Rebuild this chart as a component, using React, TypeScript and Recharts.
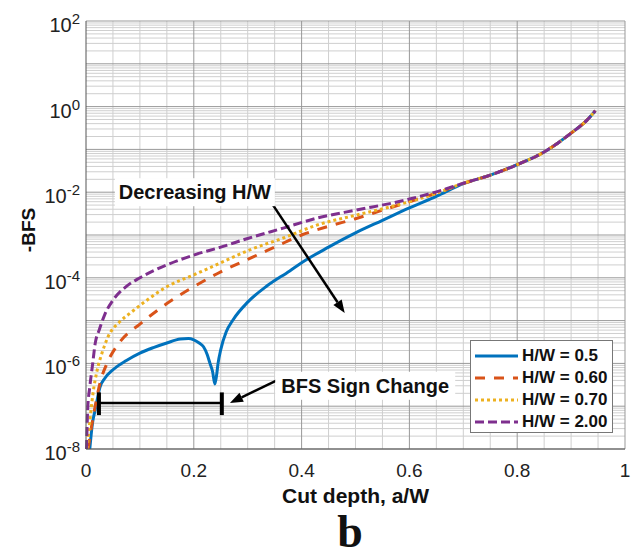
import React from 'react';
import { LineChart, Line, XAxis, YAxis, CartesianGrid, ReferenceLine, ReferenceDot } from 'recharts';

const FONT = 'Arial, "Liberation Sans", Helvetica, sans-serif';

// cut depth a/W vs -BFS
const hw05 = [
  { a: 0.007, bfs: 1e-8 }, { a: 0.012, bfs: 4e-8 }, { a: 0.017, bfs: 8.1e-8 }, { a: 0.026, bfs: 2.8e-7 },
  { a: 0.035, bfs: 4.5e-7 }, { a: 0.05, bfs: 7.1e-7 }, { a: 0.075, bfs: 1.17e-6 }, { a: 0.1, bfs: 1.74e-6 },
  { a: 0.125, bfs: 2.34e-6 }, { a: 0.15, bfs: 3.0e-6 }, { a: 0.175, bfs: 3.7e-6 }, { a: 0.19, bfs: 3.8e-6 },
  { a: 0.2, bfs: 3.55e-6 }, { a: 0.21, bfs: 3.0e-6 }, { a: 0.218, bfs: 2.45e-6 }, { a: 0.225, bfs: 1.6e-6 },
  { a: 0.23, bfs: 1.0e-6 }, { a: 0.235, bfs: 6.3e-7 }, { a: 0.239, bfs: 3.3e-7 }, { a: 0.242, bfs: 5.0e-7 },
  { a: 0.245, bfs: 1.0e-6 }, { a: 0.25, bfs: 2.1e-6 }, { a: 0.26, bfs: 5.4e-6 }, { a: 0.273, bfs: 1.05e-5 },
  { a: 0.3, bfs: 2.7e-5 }, { a: 0.336, bfs: 6.5e-5 }, { a: 0.378, bfs: 1.45e-4 }, { a: 0.4, bfs: 2.25e-4 },
  { a: 0.45, bfs: 5.2e-4 }, { a: 0.5, bfs: 1.12e-3 }, { a: 0.55, bfs: 2.2e-3 }, { a: 0.6, bfs: 4.3e-3 },
  { a: 0.65, bfs: 8.0e-3 }, { a: 0.7, bfs: 1.58e-2 }, { a: 0.75, bfs: 2.5e-2 }, { a: 0.8, bfs: 4.4e-2 },
  { a: 0.85, bfs: 8.7e-2 }, { a: 0.875, bfs: 0.14 }, { a: 0.9, bfs: 0.24 }, { a: 0.93, bfs: 0.49 },
  { a: 0.945, bfs: 0.8 },
];

const hw060 = [
  { a: 0.004, bfs: 1e-8 }, { a: 0.01, bfs: 3.2e-8 }, { a: 0.017, bfs: 1e-7 }, { a: 0.026, bfs: 3.5e-7 },
  { a: 0.039, bfs: 1.0e-6 }, { a: 0.063, bfs: 3.2e-6 }, { a: 0.1, bfs: 8.3e-6 }, { a: 0.15, bfs: 2.5e-5 },
  { a: 0.2, bfs: 6.2e-5 }, { a: 0.25, bfs: 1.38e-4 }, { a: 0.3, bfs: 2.7e-4 }, { a: 0.35, bfs: 5.2e-4 },
  { a: 0.4, bfs: 1.0e-3 }, { a: 0.45, bfs: 1.6e-3 }, { a: 0.5, bfs: 2.4e-3 }, { a: 0.55, bfs: 3.8e-3 },
  { a: 0.6, bfs: 6.0e-3 }, { a: 0.65, bfs: 9.5e-3 }, { a: 0.7, bfs: 1.6e-2 }, { a: 0.75, bfs: 2.5e-2 },
  { a: 0.8, bfs: 4.4e-2 }, { a: 0.85, bfs: 8.7e-2 }, { a: 0.875, bfs: 0.14 }, { a: 0.9, bfs: 0.24 },
  { a: 0.93, bfs: 0.49 }, { a: 0.945, bfs: 0.8 },
];

const hw070 = [
  { a: 0.002, bfs: 1e-8 }, { a: 0.006, bfs: 3.2e-8 }, { a: 0.013, bfs: 2e-7 }, { a: 0.02, bfs: 6.3e-7 },
  { a: 0.03, bfs: 1.8e-6 }, { a: 0.041, bfs: 4.2e-6 }, { a: 0.063, bfs: 9.5e-6 }, { a: 0.082, bfs: 1.5e-5 },
  { a: 0.113, bfs: 3.0e-5 }, { a: 0.15, bfs: 6.2e-5 }, { a: 0.2, bfs: 1.17e-4 }, { a: 0.25, bfs: 2.24e-4 },
  { a: 0.304, bfs: 4.5e-4 }, { a: 0.366, bfs: 8.5e-4 }, { a: 0.428, bfs: 1.7e-3 }, { a: 0.503, bfs: 2.95e-3 },
  { a: 0.577, bfs: 5.0e-3 }, { a: 0.651, bfs: 9.5e-3 }, { a: 0.7, bfs: 1.62e-2 }, { a: 0.75, bfs: 2.5e-2 },
  { a: 0.8, bfs: 4.4e-2 }, { a: 0.85, bfs: 8.7e-2 }, { a: 0.875, bfs: 0.14 }, { a: 0.9, bfs: 0.24 },
  { a: 0.93, bfs: 0.49 }, { a: 0.945, bfs: 0.8 },
];

const hw200 = [
  { a: 0.001, bfs: 1e-8 }, { a: 0.003, bfs: 8e-8 }, { a: 0.007, bfs: 2.8e-7 }, { a: 0.012, bfs: 9e-7 },
  { a: 0.017, bfs: 2.9e-6 }, { a: 0.025, bfs: 6.3e-6 }, { a: 0.035, bfs: 1.4e-5 }, { a: 0.05, bfs: 3.0e-5 },
  { a: 0.075, bfs: 6.3e-5 }, { a: 0.1, bfs: 1.0e-4 }, { a: 0.15, bfs: 2.0e-4 }, { a: 0.2, bfs: 3.4e-4 },
  { a: 0.25, bfs: 5.2e-4 }, { a: 0.3, bfs: 8.3e-4 }, { a: 0.366, bfs: 1.45e-3 }, { a: 0.43, bfs: 2.5e-3 },
  { a: 0.5, bfs: 3.8e-3 }, { a: 0.577, bfs: 5.9e-3 }, { a: 0.65, bfs: 1.02e-2 }, { a: 0.7, bfs: 1.62e-2 },
  { a: 0.75, bfs: 2.5e-2 }, { a: 0.8, bfs: 4.4e-2 }, { a: 0.85, bfs: 8.7e-2 }, { a: 0.875, bfs: 0.14 },
  { a: 0.9, bfs: 0.24 }, { a: 0.93, bfs: 0.49 }, { a: 0.945, bfs: 0.8 },
];

const xTicks = [0, 0.2, 0.4, 0.6, 0.8, 1];
const yTicks = [1e-8, 1e-6, 1e-4, 1e-2, 1, 1e2];
const xMinorGrid = [0.05, 0.1, 0.15, 0.25, 0.3, 0.35, 0.45, 0.5, 0.55, 0.65, 0.7, 0.75, 0.85, 0.9, 0.95];
const xMajorGrid = [0.2, 0.4, 0.6, 0.8, 1];
const yDecades = [1e-8, 1e-7, 1e-6, 1e-5, 1e-4, 1e-3, 1e-2, 1e-1, 1, 10, 100];
const logSteps = [2, 3, 4, 5, 6, 7, 8, 9];
const yMinorGrid = yDecades.slice(0, -1).flatMap((d) => logSteps.map((m) => d * m));

const series = [
  { name: 'H/W = 0.5', data: hw05, color: '#0072BD', dash: undefined },
  { name: 'H/W = 0.60', data: hw060, color: '#D95319', dash: '10 9' },
  { name: 'H/W = 0.70', data: hw070, color: '#EDB120', dash: '3 3' },
  { name: 'H/W = 2.00', data: hw200, color: '#7E2F8E', dash: '9 4' },
];

// map values through the axis scale that recharts hands to the grid generator
const project = (axis: any, values: number[]) => {
  const s = axis && axis.scale;
  if (!s) return [];
  const f = typeof s === 'function' ? s : typeof s.map === 'function' ? (v: number) => s.map(v) : null;
  if (!f) return [];
  return values.map((v) => f(v)).filter((p: any) => typeof p === 'number' && isFinite(p));
};

const YTick = ({ x, y, payload }: any) => {
  const exp = Math.round(Math.log10(payload.value));
  return (
    <text x={x + 2} y={y + 11} textAnchor="end" fontFamily={FONT} fontSize={20} fill="#222">
      <tspan>10</tspan>
      <tspan dy={-8} fontSize={15}>{exp}</tspan>
    </text>
  );
};

const XTick = ({ x, y, payload }: any) => (
  <text x={x} y={y + 20} textAnchor="middle" fontFamily={FONT} fontSize={19} fill="#222">
    {payload.value}
  </text>
);

const Arrow = ({ x1, y1, x2, y2 }: any) => {
  const ang = Math.atan2(y2 - y1, x2 - x1);
  const len = 13;
  const half = 5;
  const bx = x2 - len * Math.cos(ang);
  const by = y2 - len * Math.sin(ang);
  const p1 = `${bx + half * Math.sin(ang)},${by - half * Math.cos(ang)}`;
  const p2 = `${bx - half * Math.sin(ang)},${by + half * Math.cos(ang)}`;
  return (
    <g>
      <line x1={x1} y1={y1} x2={bx} y2={by} stroke="#000" strokeWidth={2.5} />
      <polygon points={`${x2},${y2} ${p1} ${p2}`} fill="#000" />
    </g>
  );
};

const textBox = (text: string, w: number) => ({ cx, cy }: any) => (
  <g>
    <rect x={cx - w / 2} y={cy - 14} width={w} height={28} fill="#fff" />
    <text x={cx} y={cy + 7} textAnchor="middle" fontFamily={FONT} fontSize={20} fontWeight="bold" fill="#111">
      {text}
    </text>
  </g>
);

function LegendBox() {
  return (
    <div style={{
      position: 'absolute', left: 470, top: 340, width: 143, height: 93, boxSizing: 'border-box',
      border: '1px solid #777', background: '#fff', paddingTop: 4, fontFamily: FONT,
    }}>
      {series.map((s) => (
        <div key={s.name} style={{ display: 'flex', alignItems: 'center', height: 22 }}>
          <svg width={50} height={22}>
            <line x1={4} x2={47} y1={11} y2={11} stroke={s.color} strokeWidth={3} strokeDasharray={s.dash} />
          </svg>
          <span style={{ marginLeft: 1, fontSize: 17, fontWeight: 'bold', color: '#111', lineHeight: '22px' }}>
            {s.name}
          </span>
        </div>
      ))}
    </div>
  );
}

export default function App() {
  return (
    <div style={{ position: 'absolute', left: 0, top: 0, width: 637, height: 558, background: '#fff' }}>
      <LineChart width={637} height={558} margin={{ top: 21, right: 12, bottom: 49, left: 0 }}>
        <CartesianGrid
          stroke="#cfcfcf"
          strokeWidth={1}
          horizontalCoordinatesGenerator={({ yAxis }: any) => project(yAxis, yMinorGrid)}
          verticalCoordinatesGenerator={({ xAxis }: any) => project(xAxis, xMinorGrid)}
        />
        <CartesianGrid
          stroke="#999"
          strokeWidth={1}
          horizontalCoordinatesGenerator={({ yAxis }: any) => project(yAxis, yDecades)}
          verticalCoordinatesGenerator={({ xAxis }: any) => project(xAxis, xMajorGrid)}
        />
        <XAxis
          type="number"
          dataKey="a"
          domain={[0, 1]}
          ticks={xTicks}
          height={60}
          tickLine={false}
          axisLine={{ stroke: '#555' }}
          tick={<XTick />}
        />
        <YAxis
          type="number"
          scale="log"
          domain={[1e-8, 100]}
          allowDataOverflow
          ticks={yTicks}
          width={86}
          tickLine={false}
          axisLine={{ stroke: '#555' }}
          tick={<YTick />}
        />
        {series.map((s) => (
          <Line
            key={s.name}
            data={s.data}
            dataKey="bfs"
            name={s.name}
            type="monotone"
            stroke={s.color}
            strokeWidth={3}
            strokeDasharray={s.dash}
            dot={false}
            isAnimationActive={false}
          />
        ))}
        <ReferenceLine segment={[{ x: 0.024, y: 1.19e-7 }, { x: 0.252, y: 1.19e-7 }]} stroke="#000" strokeWidth={2.5} />
        <ReferenceLine segment={[{ x: 0.024, y: 6.2e-8 }, { x: 0.024, y: 2.1e-7 }]} stroke="#000" strokeWidth={4} />
        <ReferenceLine segment={[{ x: 0.252, y: 6.2e-8 }, { x: 0.252, y: 2.1e-7 }]} stroke="#000" strokeWidth={4} />
        <ReferenceLine segment={[{ x: 0.347, y: 5e-3 }, { x: 0.48, y: 1.5e-5 }]} shape={Arrow} />
        <ReferenceLine segment={[{ x: 0.356, y: 4.1e-7 }, { x: 0.267, y: 1.19e-7 }]} shape={Arrow} />
        <ReferenceDot x={0.202} y={1e-2} r={0} shape={textBox('Decreasing H/W', 160)} />
        <ReferenceDot x={0.518} y={3e-7} r={0} shape={textBox('BFS Sign Change', 180)} />
      </LineChart>
      <svg width={637} height={558} style={{ position: 'absolute', left: 0, top: 0, pointerEvents: 'none' }}>
        <text x={355.5} y={503} textAnchor="middle" fontFamily={FONT} fontSize={21} fontWeight="bold" fill="#111">
          Cut depth, a/W
        </text>
        <text x={35} y={230} transform="rotate(-90 35 230)" textAnchor="middle" fontFamily={FONT}
          fontSize={19} fontWeight="bold" fill="#111">
          -BFS
        </text>
        <text x={350} y={547} textAnchor="middle" fontFamily='"Liberation Serif", "Times New Roman", serif'
          fontSize={46} fontWeight="bold" fill="#111">
          b
        </text>
      </svg>
      <LegendBox />
    </div>
  );
}
